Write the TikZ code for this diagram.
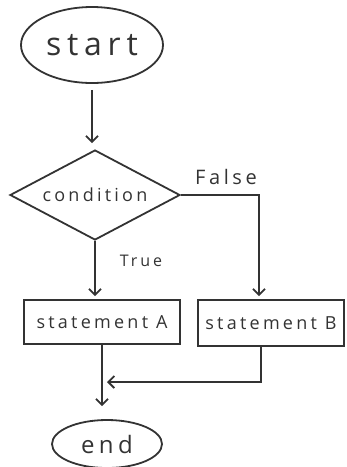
\documentclass[tikz,border=0pt]{standalone}
\usepackage{fontspec}
\setmainfont{Open Sans}
\newfontfamily\hand[LetterSpace=18]{Open Sans}
\usetikzlibrary{shapes.geometric,arrows.meta}
\definecolor{ink}{HTML}{333333}
\begin{document}
\begin{tikzpicture}[x=1pt,y=-1pt,line width=1.8pt,draw=ink,text=ink,
  term/.style={ellipse,draw,inner sep=0pt},
  proc/.style={rectangle,draw,inner sep=0pt},
  dec/.style={diamond,draw,inner sep=0pt,shape aspect=1.9},
  lbl/.style={inner sep=0pt},
  arr/.style={-{Straight Barb[length=6pt,width=12pt]}}]
\useasboundingbox (0,0) rectangle (347,467);
\node[term,minimum width=142pt,minimum height=76pt] (start) at (92,45) {\fontsize{32}{32}\selectfont\hand start};
\node[dec,minimum width=170pt,minimum height=90pt] (cond) at (95,195) {\fontsize{18}{18}\selectfont\hand condition};
\node[proc,minimum width=156pt,minimum height=44pt] (A) at (102,322) {\fontsize{18}{18}\selectfont\hand statement A};
\node[proc,minimum width=146pt,minimum height=46pt] (B) at (271,323) {\fontsize{18}{18}\selectfont\hand statement B};
\node[term,minimum width=110pt,minimum height=48pt] (E) at (107,444) {\fontsize{24}{24}\selectfont\hand end};
\node[lbl] (F) at (226,177) {\fontsize{20}{20}\selectfont\hand False};
\node[lbl] (T) at (141,261) {\fontsize{16}{16}\selectfont\hand True};
\draw[arr,shorten <=6pt,shorten >=6pt] (start.south) -- (start.south |- cond.north);
\draw[arr,shorten >=3pt] (cond.south) -- (cond.south |- A.north);
\draw[arr,shorten >=3pt] (cond.east) -| ([xshift=-12pt]B.north);
\draw[arr,shorten >=13pt] (A.south) -- (A.south |- E.north);
\coordinate (m) at (A.south |- 0,382);
\draw[arr] ([xshift=-10pt]B.south) |- ([xshift=5pt]m);
\end{tikzpicture}
\end{document}
